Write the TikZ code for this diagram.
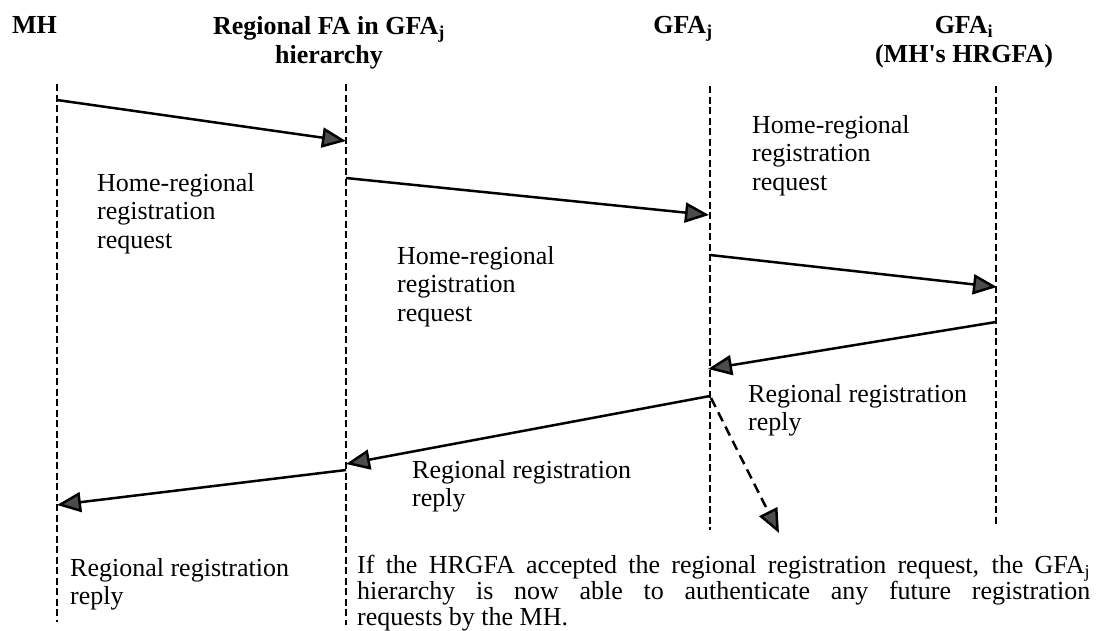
\documentclass[tikz,border=0pt]{standalone}
\usepackage{fontspec}
\setmainfont{Liberation Serif}
\usetikzlibrary{arrows.meta}

\tikzset{
  lifeline/.style={line width=1.7pt, dash pattern=on 7pt off 3.5pt},
  msg/.style={line width=2.5pt, -{Triangle[length=24pt,width=20pt,fill=black!70]}},
  hint/.style={line width=2.5pt, dash pattern=on 10pt off 6pt, -{Triangle[length=24pt,width=20pt,fill=black!70]}},
  head/.style={inner sep=0pt, font=\fontsize{26}{29}\selectfont\bfseries},
  note/.style={anchor=north west, inner sep=0pt, align=left, font=\fontsize{26}{28.5}\selectfont},
}

\begin{document}
\begin{tikzpicture}[x=1pt, y=-1pt]
  \useasboundingbox (0,0) rectangle (1103,630);

  % column headers
  \node[head, anchor=base east] (hmh) at (57,33) {MH};
  \node[head, anchor=north, align=center] (hrfa) at (329,16) {Regional FA in GFA\textsubscript{j}\\hierarchy};
  \node[head, anchor=base east] (hgj) at (713,33) {GFA\textsubscript{j}};
  \node[head, anchor=north, align=center] (hgi) at (964,16) {GFA\textsubscript{i}\\(MH\textquotesingle s HRGFA)};

  % lifeline ends
  \coordinate (mhT) at (57,84);   \coordinate (mhB) at (57,622);
  \coordinate (rfT) at (346,84);  \coordinate (rfB) at (346,625);
  \coordinate (gjT) at (710,86);  \coordinate (gjB) at (710,530);
  \coordinate (giT) at (996,86);  \coordinate (giB) at (996,526);

  \draw[lifeline] (mhT) -- (mhB);
  \draw[lifeline] (rfT) -- (rfB);
  \draw[lifeline] (gjT) -- (gjB);
  \draw[lifeline] (giT) -- (giB);

  % message end points on the lifelines
  \coordinate (m1s) at (57,100);   \coordinate (m1e) at (346,141);
  \coordinate (m2s) at (346,178);  \coordinate (m2e) at (709,215);
  \coordinate (m3s) at (710,255);  \coordinate (m3e) at (997,287);
  \coordinate (m4s) at (996,322);  \coordinate (m4e) at (708,369);
  \coordinate (m5s) at (710,396);  \coordinate (m5e) at (346,464);
  \coordinate (m6s) at (346,470);  \coordinate (m6e) at (57,505);
  \coordinate (hs)  at (711,398);  \coordinate (he)  at (779,533);

  % registration request, forwarded up the hierarchy
  \draw[msg] (m1s) -- (m1e);
  \draw[msg] (m2s) -- (m2e);
  \draw[msg] (m3s) -- (m3e);
  % registration reply, passed back down
  \draw[msg] (m4s) -- (m4e);
  \draw[msg] (m5s) -- (m5e);
  \draw[msg] (m6s) -- (m6e);
  \draw[hint] (hs) -- (he);

  % message labels
  \node[note] (l1) at (97,173) {Home-regional\\registration\\request};
  \node[note] (l2) at (397,246) {Home-regional\\registration\\request};
  \node[note] (l3) at (752,115) {Home-regional\\registration\\request};
  \node[note] (l4) at (748,384) {Regional registration\\reply};
  \node[note] (l5) at (412,460) {Regional registration\\reply};
  \node[note] (l6) at (70,558) {Regional registration\\reply};

  \node[anchor=north west, inner sep=0pt, text width=733pt, align=justify,
        font=\fontsize{26}{26}\selectfont] (remark) at (357,555)
    {If the HRGFA accepted the regional registration request, the GFA\textsubscript{j}\linebreak
     hierarchy is now able to authenticate any future registration\linebreak
     requests by the MH.};
\end{tikzpicture}
\end{document}
